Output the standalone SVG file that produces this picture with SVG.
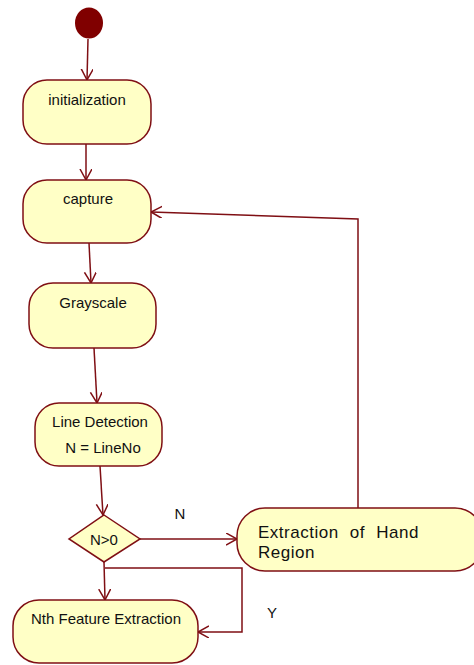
<svg xmlns="http://www.w3.org/2000/svg" width="474" height="665" viewBox="0 0 474 665">
<style>
.n{fill:#ffffc6;stroke:#7f0f14;stroke-width:1.5}
.c{fill:none;stroke:#7f0f14;stroke-width:1.5}
text{font-family:"Liberation Sans",Arial,sans-serif;font-size:15px;fill:#111}
.big{font-size:17px;letter-spacing:0.5px;word-spacing:6px}
</style>
<defs>
<marker id="a" markerWidth="14" markerHeight="14" refX="11" refY="6" orient="auto" markerUnits="userSpaceOnUse">
<path d="M0,0 L11,6 L0,12" fill="none" stroke="#7f0f14" stroke-width="1.5"/>
</marker>
</defs>
<rect width="474" height="665" fill="#fff"/>
<g id="connectors">
<line class="c" x1="88" y1="39" x2="87" y2="80" marker-end="url(#a)"/>
<line class="c" x1="86" y1="144" x2="86" y2="180" marker-end="url(#a)"/>
<line class="c" x1="89" y1="243" x2="91" y2="283" marker-end="url(#a)"/>
<line class="c" x1="94" y1="348" x2="97" y2="403" marker-end="url(#a)"/>
<line class="c" x1="100" y1="466" x2="103" y2="515" marker-end="url(#a)"/>
<line class="c" x1="140" y1="539" x2="237" y2="539" marker-end="url(#a)"/>
<polyline class="c" points="358,508 358,219 151,212" marker-end="url(#a)"/>
<line class="c" x1="104" y1="562" x2="105" y2="600" marker-end="url(#a)"/>
<polyline class="c" points="105,568 242,568 242,632 198,632" marker-end="url(#a)"/>
<text x="180" y="519" text-anchor="middle">N</text>
<text x="272" y="618" text-anchor="middle">Y</text>
</g>
<g id="start"><ellipse cx="89" cy="23" rx="14" ry="15.5" fill="#800000"/></g>
<g id="initialization">
<rect class="n" x="23" y="80" width="128" height="64" rx="24"/>
<text x="87" y="105" text-anchor="middle">initialization</text>
</g>
<g id="capture">
<rect class="n" x="23" y="180" width="128" height="63" rx="24"/>
<text x="88" y="204" text-anchor="middle">capture</text>
</g>
<g id="grayscale">
<rect class="n" x="29" y="283" width="127" height="65" rx="24"/>
<text x="93" y="308" text-anchor="middle">Grayscale</text>
</g>
<g id="linedetection">
<rect class="n" x="35" y="403" width="127" height="63" rx="24"/>
<text x="100" y="427" text-anchor="middle">Line Detection</text>
<text x="103" y="453" text-anchor="middle">N = LineNo</text>
</g>
<g id="decision">
<polygon class="n" points="104,515 140,539 104,562 69,539"/>
<text x="104" y="545" text-anchor="middle">N&gt;0</text>
</g>
<g id="extraction">
<rect class="n" x="237" y="508" width="246" height="63" rx="28"/>
<text class="big" x="258" y="538">Extraction of Hand</text>
<text class="big" x="258" y="558">Region</text>
</g>
<g id="nthfeature">
<rect class="n" x="13" y="600" width="185" height="63" rx="26"/>
<text x="106" y="624" text-anchor="middle">Nth Feature Extraction</text>
</g>
</svg>
